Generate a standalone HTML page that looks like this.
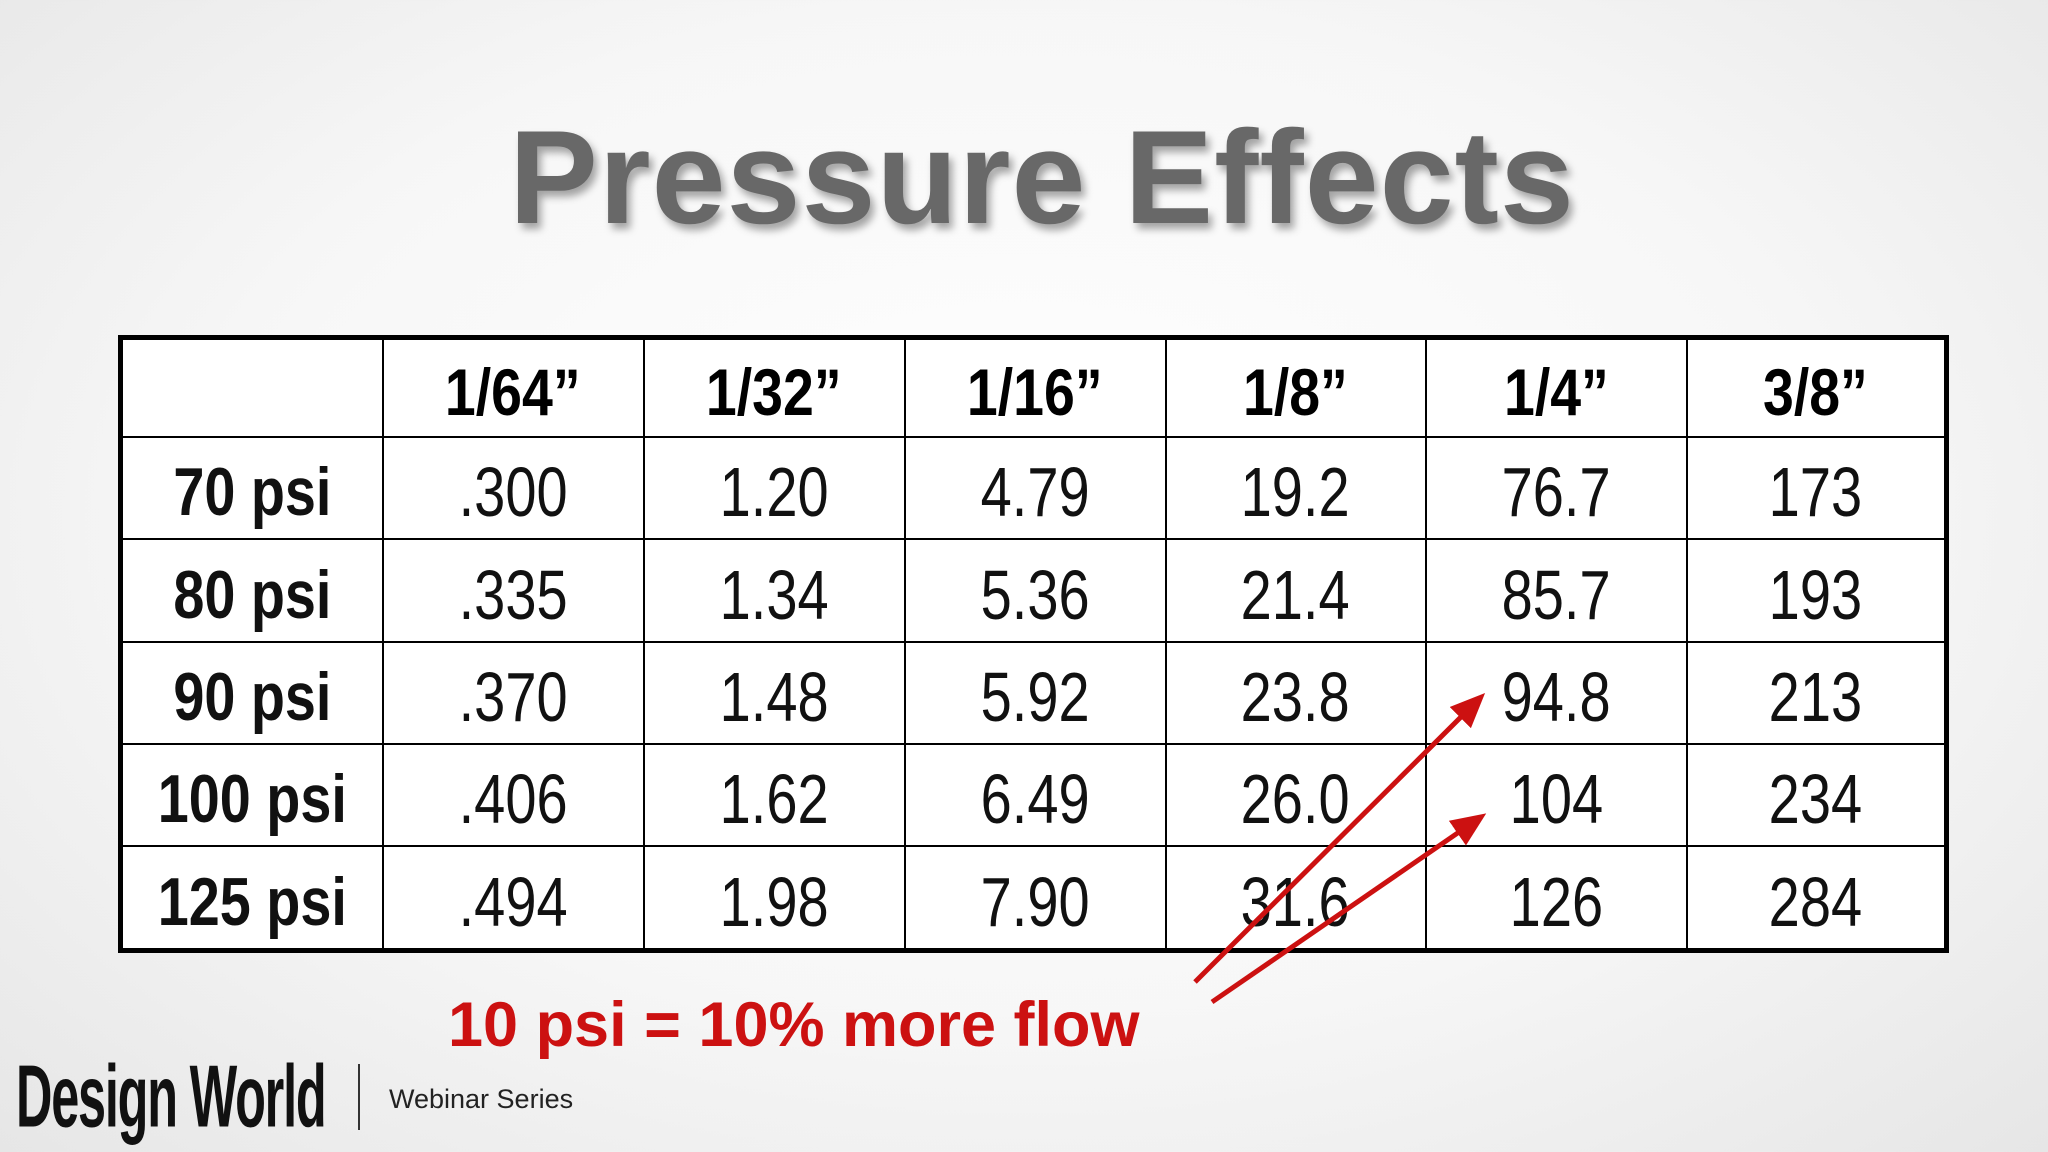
<!DOCTYPE html>
<html><head><meta charset="utf-8"><style>
html,body{margin:0;padding:0}
body{width:2048px;height:1152px;position:relative;overflow:hidden;background:radial-gradient(ellipse at 50% 45%,#ffffff 0%,#f7f7f7 55%,#e6e6e6 100%);font-family:"Liberation Sans",sans-serif}
.title{position:absolute;left:18px;width:2048px;top:112px;text-align:center;font-size:133px;font-weight:bold;color:#686868;text-shadow:4px 6px 8px rgba(0,0,0,0.35);letter-spacing:1px;line-height:1}
table{position:absolute;left:118px;top:335px;width:1826px;height:618px;border-collapse:collapse;border:5px solid #000;background:#fff;table-layout:fixed}
td,th{border:2px solid #000;text-align:center;padding:8px 0 0 0;white-space:nowrap}
th{font-size:66px;font-weight:bold}
td{font-size:70px;color:#111}
td.rh{font-weight:bold;font-size:68px}
th span{display:inline-block;transform:scaleX(0.84)}
td span{display:inline-block;transform:scaleX(0.8)}
td.rh span{transform:scaleX(0.82)}
.note{position:absolute;left:448px;top:994px;font-size:63px;font-weight:bold;color:#cc1111;line-height:1}
.logo{position:absolute;left:16px;top:1052px;font-weight:bold;font-size:84px;color:#111;letter-spacing:-2px;line-height:1;transform:scale(0.6,1.05);transform-origin:0 0;white-space:nowrap}
.sep{position:absolute;left:358px;top:1064px;width:2px;height:66px;background:#333}
.web{position:absolute;left:389px;top:1084px;font-size:27px;color:#222}
svg{position:absolute;left:0;top:0}
</style></head><body>
<div class="title">Pressure Effects</div>
<table>
<colgroup><col style="width:262px"><col style="width:261px"><col style="width:261px"><col style="width:261px"><col style="width:260px"><col style="width:261px"><col style="width:260px"></colgroup>
<tr><th></th><th><span>1/64”</span></th><th><span>1/32”</span></th><th><span>1/16”</span></th><th><span>1/8”</span></th><th><span>1/4”</span></th><th><span>3/8”</span></th></tr>
<tr><td class="rh"><span>70 psi</span></td><td><span>.300</span></td><td><span>1.20</span></td><td><span>4.79</span></td><td><span>19.2</span></td><td><span>76.7</span></td><td><span>173</span></td></tr>
<tr><td class="rh"><span>80 psi</span></td><td><span>.335</span></td><td><span>1.34</span></td><td><span>5.36</span></td><td><span>21.4</span></td><td><span>85.7</span></td><td><span>193</span></td></tr>
<tr><td class="rh"><span>90 psi</span></td><td><span>.370</span></td><td><span>1.48</span></td><td><span>5.92</span></td><td><span>23.8</span></td><td><span>94.8</span></td><td><span>213</span></td></tr>
<tr><td class="rh"><span>100 psi</span></td><td><span>.406</span></td><td><span>1.62</span></td><td><span>6.49</span></td><td><span>26.0</span></td><td><span>104</span></td><td><span>234</span></td></tr>
<tr><td class="rh"><span>125 psi</span></td><td><span>.494</span></td><td><span>1.98</span></td><td><span>7.90</span></td><td><span>31.6</span></td><td><span>126</span></td><td><span>284</span></td></tr>
</table>
<svg width="2048" height="1152">
<defs><marker id="ah" markerWidth="7" markerHeight="6" refX="5" refY="3" orient="auto" markerUnits="strokeWidth"><path d="M0,0 L7,3 L0,6 Z" fill="#cc1111"/></marker></defs>
<line x1="1195" y1="982" x2="1478" y2="700" stroke="#cc1111" stroke-width="5" marker-end="url(#ah)"/>
<line x1="1212" y1="1002" x2="1478" y2="819" stroke="#cc1111" stroke-width="5" marker-end="url(#ah)"/>
</svg>
<div class="note">10 psi = 10% more flow</div>
<div class="logo">Design World</div>
<div class="sep"></div>
<div class="web">Webinar Series</div>
</body></html>
